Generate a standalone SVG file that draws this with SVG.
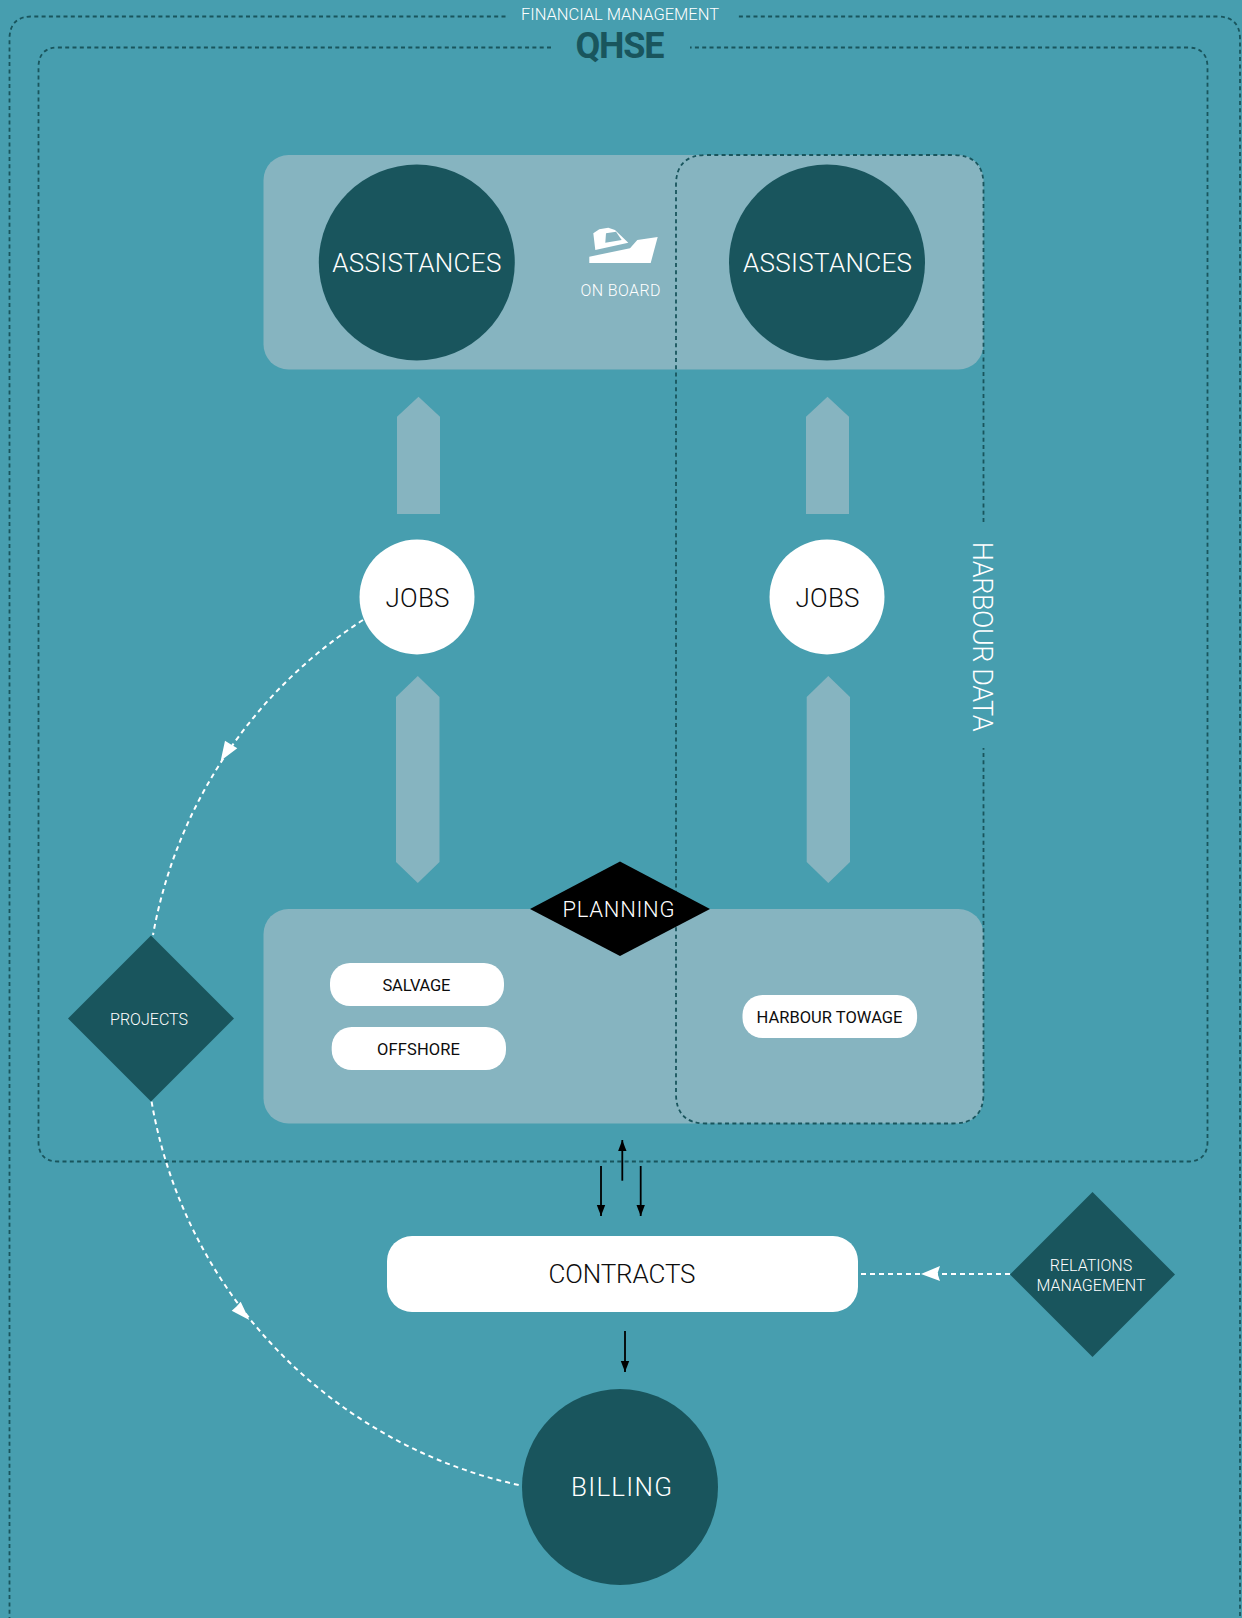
<svg xmlns="http://www.w3.org/2000/svg" width="1242" height="1618" viewBox="0 0 1242 1618">
<defs>
<style>
text{font-family:"Roboto","Liberation Sans",sans-serif;text-anchor:middle}
.frame{fill:none;stroke:#19555d;stroke-width:1.8;stroke-dasharray:4 3.3}
.panel{fill:#86b4c0}
.dark{fill:#19555d}
.pill{fill:#fff}
.wl{fill:#fff}
.lt{font-weight:300}
.bl{fill:#0d0d0d}
.wd{fill:none;stroke:#fff;stroke-width:2;stroke-dasharray:5 4}
.k{stroke:#000;stroke-width:1.8;fill:none}
</style>
<marker id="kh" markerUnits="userSpaceOnUse" markerWidth="12" markerHeight="10" refX="11" refY="5" orient="auto"><path d="M0 0.800L11 5L0 9.200Z" fill="#000"/></marker>
</defs>
<rect width="1242" height="1618" fill="#479eaf"/>
<g id="frames">
<path class="frame" d="M505.500 16.500H32Q9.500 16.500 9.500 39V1640H1240V39Q1240 16.500 1217 16.500H737"/>
<path class="frame" d="M551 47.500H58Q38.500 47.500 38.500 67.500V1141.500Q38.500 1161.500 58 1161.500H1187.500Q1207.500 1161.500 1207.500 1141.500V67.500Q1207.500 47.500 1187.500 47.500H690"/>
</g>
<g id="financial-label"><text x="620" y="20" font-size="16.500" class="wl lt" textLength="198">FINANCIAL MANAGEMENT</text></g>
<g id="qhse-label"><text x="620" y="58" font-size="36" font-weight="700" fill="#19555d" textLength="89">QHSE</text></g>
<g id="panel-top"><rect class="panel" x="263.500" y="155" width="720" height="214.500" rx="25"/></g>
<g id="panel-bottom"><rect class="panel" x="263.500" y="909" width="720" height="214.500" rx="25"/></g>
<g id="harbour-data">
<path class="frame" d="M983.500 522V185Q983.500 155 953 155H706Q676 155 676 185V1093.500Q676 1123.500 706 1123.500H953Q983.500 1123.500 983.500 1093.500V748"/>
<text transform="translate(973.300 636.700) rotate(90)" font-size="27" class="wl lt" textLength="190">HARBOUR DATA</text>
</g>
<g id="assistances-left"><circle class="dark" cx="416.800" cy="262.500" r="98"/><text x="416.800" y="271.500" font-size="26" class="wl lt" textLength="169">ASSISTANCES</text></g>
<g id="assistances-right"><circle class="dark" cx="827" cy="262.500" r="98"/><text x="827.500" y="271.500" font-size="26" class="wl lt" textLength="169">ASSISTANCES</text></g>
<g id="on-board">
<path class="wl" fill-rule="evenodd" d="M589.300 256.700L630 248.300L637.300 240L657.700 237L650.700 263H589.300ZM593.300 233.300L599.300 229.300L608.300 227.700L615 230L628.300 242.700L595.300 250ZM606 233.300L605.300 242.700L621.700 240L616 231.700Z"/>
<text x="620.500" y="295.700" font-size="16" class="wl lt" textLength="80">ON BOARD</text>
</g>
<g id="arrow-up-left"><path class="panel" d="M397 416.700L418.500 396.700L440 416.700V514H397Z"/></g>
<g id="arrow-up-right"><path class="panel" d="M806 416.700L827.500 396.700L849 416.700V514H806Z"/></g>
<g id="jobs-left"><circle class="pill" cx="417" cy="597" r="57.500"/><text x="417.500" y="607" font-size="26" class="bl lt" textLength="64">JOBS</text></g>
<g id="jobs-right"><circle class="pill" cx="827" cy="597" r="57.500"/><text x="827.500" y="607" font-size="26" class="bl lt" textLength="64">JOBS</text></g>
<g id="arrow-double-left"><path class="panel" d="M396 697L417.800 676L439.500 697V862L417.800 883L396 862Z"/></g>
<g id="arrow-double-right"><path class="panel" d="M806.700 697L828.300 676L850 697V862L828.300 883L806.700 862Z"/></g>
<g id="planning"><path d="M530 909L620 861.500L710 909L620 956Z" fill="#000"/><text x="618.500" y="917" font-size="22" class="wl lt" textLength="112">PLANNING</text></g>
<g id="salvage"><rect class="pill" x="330" y="963" width="174" height="43" rx="20"/><text x="416.500" y="990.500" font-size="16.500" class="bl" textLength="68">SALVAGE</text></g>
<g id="offshore"><rect class="pill" x="331.700" y="1027" width="174.300" height="43" rx="20"/><text x="418.500" y="1054.500" font-size="16.500" class="bl" textLength="83">OFFSHORE</text></g>
<g id="harbour-towage"><rect class="pill" x="742.500" y="995" width="174.600" height="43" rx="20"/><text x="829.500" y="1022.500" font-size="16.500" class="bl" textLength="146">HARBOUR TOWAGE</text></g>
<g id="projects"><path class="dark" d="M68 1018.500L151 935.500L234 1018.500L151 1101.500Z"/><text x="149" y="1025" font-size="16" class="wl lt" textLength="78">PROJECTS</text></g>
<g id="contracts"><rect class="pill" x="387" y="1236" width="471" height="76" rx="25"/><text x="622" y="1283" font-size="26" class="bl lt" textLength="147">CONTRACTS</text></g>
<g id="relations"><path class="dark" d="M1010 1274.500L1092.500 1192L1175 1274.500L1092.500 1357Z"/><text font-size="16" class="wl lt"><tspan x="1091" y="1270.500">RELATIONS</tspan><tspan x="1091" y="1290.500">MANAGEMENT</tspan></text></g>
<g id="billing"><circle class="dark" cx="620" cy="1487" r="98"/><text x="621.500" y="1496" font-size="26" class="wl lt" textLength="101">BILLING</text></g>
<g id="connectors">
<path class="wd" d="M363 620A475 475 0 0 0 153 935"/>
<path class="wd" d="M151.600 1101.700A475 475 0 0 0 521 1485.500"/>
<path class="wd" d="M1010 1274H858"/>
<path class="wl" d="M220.700 760.700L225 740.700L231 744.500L237.300 748.300Z"/>
<path class="wl" d="M249.300 1320L240.700 1301.700L236.500 1306.500L231.700 1310.700Z"/>
<path class="wl" d="M921 1274L940 1266L937.500 1273.500L940 1281Z"/>
<path class="k" d="M601 1166V1216" marker-end="url(#kh)"/>
<path class="k" d="M640.700 1166V1216" marker-end="url(#kh)"/>
<path class="k" d="M622.300 1180.700V1140" marker-end="url(#kh)"/>
<path class="k" d="M625 1331V1372" marker-end="url(#kh)"/>
</g>
</svg>
